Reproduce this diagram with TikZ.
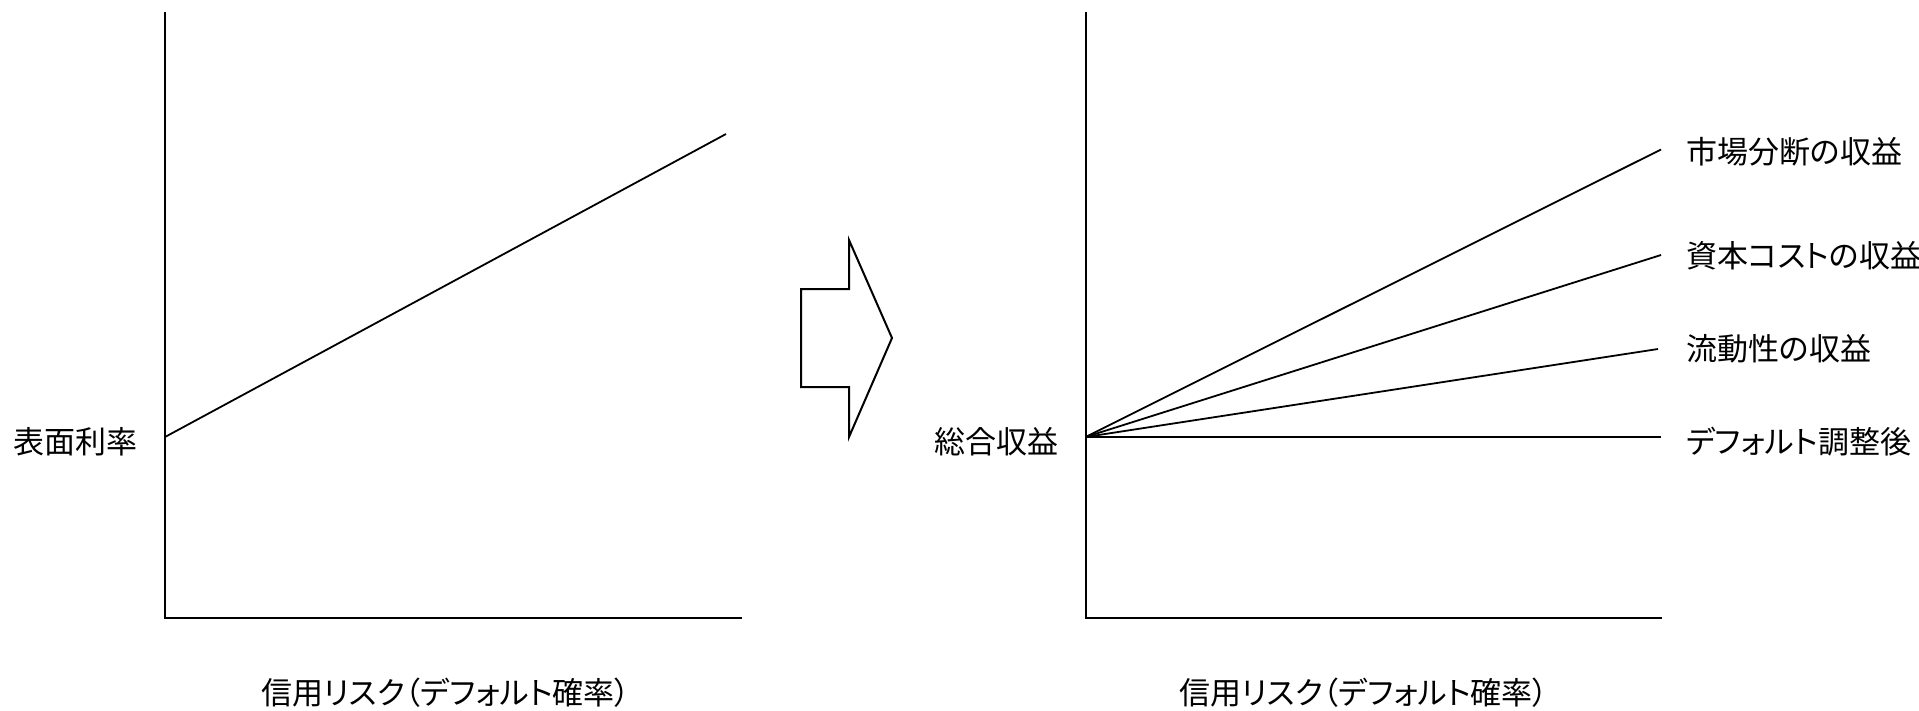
\documentclass[tikz,border=0pt]{standalone}
\usepackage{fontspec}
\setmainfont{Noto Sans CJK JP}[RawFeature=+palt]
\begin{document}
\begin{tikzpicture}[x=1pt,y=-1pt,
  ax/.style={line width=2pt, line cap=rect},
  ln/.style={line width=1.8pt},
  lbl/.style={inner sep=0pt, font=\fontsize{31}{35}\selectfont},
]
\useasboundingbox (0,0) rectangle (1919,710);
% left chart
\coordinate (ltop) at (165,13);
\coordinate (lorig) at (165,618);
\coordinate (lxend) at (741,618);
\draw[ax] (ltop) -- (lorig) -- (lxend);
\coordinate (la) at (165,437);
\coordinate (lb) at (726,134);
\draw[ln] (la) -- (lb);
\node[lbl, anchor=base east] (lyl) at (138,453) {表面利率};
\node[lbl, anchor=base] (lxl) at (446,704) {信用リスク（デフォルト確率）};
% arrow
\draw[line width=2pt, line join=miter] (801,289) coordinate (a1) -- (849,289) -- (849,240) -- (892,338) -- (849,437) -- (849,387) -- (801,387) -- cycle;
% right chart
\coordinate (rtop) at (1085.5,13);
\coordinate (rorig) at (1085.5,618);
\coordinate (rxend) at (1661,618);
\draw[ax] (rtop) -- (rorig) -- (rxend);
\coordinate (O) at (1085.5,437);
\coordinate (e1) at (1661,149.5);
\coordinate (e2) at (1661,255);
\coordinate (e3) at (1658,349);
\coordinate (e4) at (1661,437);
\draw[ln] (O) -- (e1);
\draw[ln] (O) -- (e2);
\draw[ln] (O) -- (e3);
\draw[ln] (O) -- (e4);
\node[lbl, anchor=base east] (ryl) at (1059,453) {総合収益};
\node[lbl, anchor=base west] (t1) at (1686,163.5) {市場分断の収益};
\node[lbl, anchor=base west] (t2) at (1686,267) {資本コストの収益};
\node[lbl, anchor=base west] (t3) at (1686,360.5) {流動性の収益};
\node[lbl, anchor=base west] (t4) at (1686,453) {デフォルト調整後};
\node[lbl, anchor=base] (rxl) at (1364,704) {信用リスク（デフォルト確率）};
\end{tikzpicture}
\end{document}
